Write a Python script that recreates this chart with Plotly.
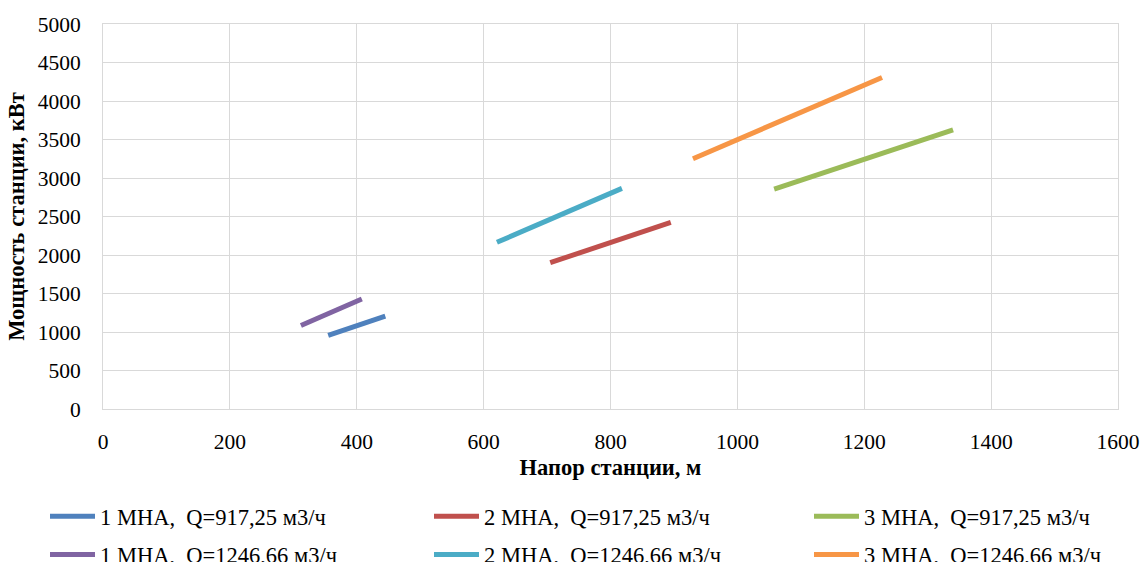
import plotly.graph_objects as go

# Data
names = [
    "1 МНА,  Q=917,25 м3/ч",
    "2 МНА,  Q=917,25 м3/ч",
    "3 МНА,  Q=917,25 м3/ч",
    "1 МНА,  Q=1246,66 м3/ч",
    "2 МНА,  Q=1246,66 м3/ч",
    "3 МНА,  Q=1246,66 м3/ч",
]
head_1_917 = [355, 445]
power_1_917 = [955, 1205]
head_2_917 = [705, 895]
power_2_917 = [1900, 2425]
head_3_917 = [1058, 1340]
power_3_917 = [2855, 3625]
head_1_1246 = [312, 408]
power_1_1246 = [1085, 1428]
head_2_1246 = [621, 818]
power_2_1246 = [2165, 2865]
head_3_1246 = [930, 1228]
power_3_1246 = [3250, 4305]

xs = [head_1_917, head_2_917, head_3_917, head_1_1246, head_2_1246, head_3_1246]
ys = [power_1_917, power_2_917, power_3_917, power_1_1246, power_2_1246, power_3_1246]
colors = ["#4F81BD", "#C0504D", "#9BBB59", "#8064A2", "#4BACC6", "#F79646"]
legend_ids = ["legend", "legend2", "legend3", "legend", "legend2", "legend3"]

FONT = "Liberation Serif, Times New Roman, serif"

fig = go.Figure()
for i in range(6):
    fig.add_trace(go.Scatter(
        x=xs[i], y=ys[i], mode="lines", name=names[i],
        line=dict(color=colors[i], width=5),
        legend=legend_ids[i], legendgroup=names[i],
    ))

W, H = 1143, 562
L, R, T, B = 103, 25, 24, 153
pw = W - L - R
ph = H - T - B

def px_x(p):
    return (p - L) / pw

def px_y(p):
    return (H - B - p) / ph

leg_common = dict(
    orientation="v", xanchor="left", yanchor="top",
    font=dict(family=FONT, size=22.5, color="#000000"),
    itemwidth=45, tracegroupgap=6, bgcolor="rgba(0,0,0,0)",
    itemclick=False,
)

fig.update_layout(
    width=W, height=H,
    margin=dict(l=L, r=R, t=T, b=B, autoexpand=False),
    paper_bgcolor="white", plot_bgcolor="white",
    font=dict(family=FONT, size=21.5, color="#000000"),
    showlegend=True,
    legend=dict(x=px_x(45), y=px_y(495), **leg_common),
    legend2=dict(x=px_x(429), y=px_y(495), **leg_common),
    legend3=dict(x=px_x(809), y=px_y(495), **leg_common),
    xaxis=dict(
        range=[0, 1600], dtick=200, tick0=0,
        showgrid=True, gridcolor="#D9D9D9", gridwidth=1,
        showline=True, linecolor="#D9D9D9", linewidth=1, mirror=True,
        zeroline=False, ticks="", ticklabelstandoff=13,
        tickfont=dict(family=FONT, size=21.5, color="#000000"),
        title=dict(text="<b>Напор станции, м</b>", standoff=6,
                   font=dict(family=FONT, size=22.5, color="#000000")),
    ),
    yaxis=dict(
        range=[0, 5000], dtick=500, tick0=0,
        showgrid=True, gridcolor="#D9D9D9", gridwidth=1,
        showline=True, linecolor="#D9D9D9", linewidth=1, mirror=True,
        zeroline=False, ticks="", ticklabelstandoff=17,
        tickfont=dict(family=FONT, size=21.5, color="#000000"),
        title=dict(text="<b>Мощность станции, кВт</b>", standoff=6,
                   font=dict(family=FONT, size=22.5, color="#000000")),
    ),
)

fig.write_html("out.html")
